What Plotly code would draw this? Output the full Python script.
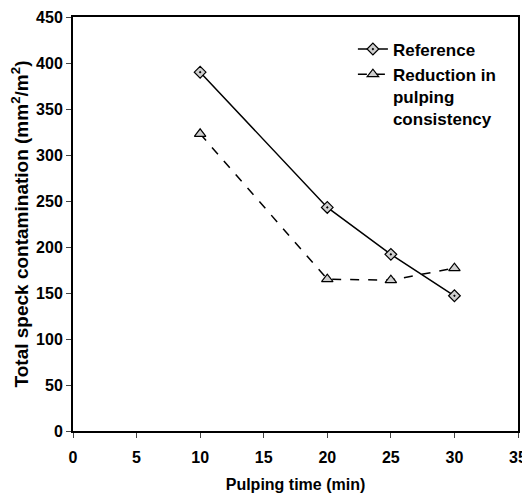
import plotly.graph_objects as go

time_min = [10, 20, 25, 30]
reference = [390, 243, 192, 147]
reduction = [323, 165, 164, 177]

x_ticks = [0, 5, 10, 15, 20, 25, 30, 35]
y_ticks = [0, 50, 100, 150, 200, 250, 300, 350, 400, 450]

font_family = "Liberation Sans, Arial, sans-serif"

fig = go.Figure()
fig.add_trace(go.Scatter(
    x=time_min, y=reference, name="Reference", mode="lines+markers",
    line=dict(color="black", width=1.5, dash="solid"),
    marker=dict(symbol="diamond-dot", size=9, color="#cfcfcf",
                line=dict(color="black", width=1.2)),
))
fig.add_trace(go.Scatter(
    x=time_min, y=reduction, name="Reduction in<br>pulping<br>consistency",
    mode="lines+markers",
    line=dict(color="black", width=1.5, dash="dash"),
    marker=dict(symbol="triangle-up", size=10, color="#cfcfcf",
                line=dict(color="black", width=1.2)),
))

# page body has an ~8px default margin, so the figure is sized to fit the window
fig.update_layout(
    width=522, height=493,
    margin=dict(l=65, r=12, t=9, b=70),
    paper_bgcolor="white", plot_bgcolor="white",
    font=dict(family=font_family, size=16, color="black", weight="bold"),
    showlegend=True,
    legend=dict(x=0.629, y=0.965, xanchor="left", yanchor="top", valign="top",
                bgcolor="rgba(0,0,0,0)", font=dict(size=17, weight="bold"),
                itemwidth=30, tracegroupgap=2),
)
fig.update_xaxes(
    range=[0, 35], tickvals=x_ticks, ticks="outside", ticklen=5,
    ticklabelstandoff=6,
    showline=True, linecolor="black", linewidth=2, mirror=True,
    showgrid=False, zeroline=False, automargin=False,
    tickfont=dict(size=16, family=font_family, weight="bold"),
    title=dict(text="Pulping time (min)", font=dict(size=16, weight="bold"), standoff=14),
)
fig.update_yaxes(
    range=[0, 450], tickvals=y_ticks, ticks="outside", ticklen=5,
    showline=True, linecolor="black", linewidth=2, mirror=True,
    showgrid=False, zeroline=False, automargin=False,
    tickfont=dict(size=16, family=font_family, weight="bold"),
    title=dict(text="Total speck contamination (mm<sup>2</sup>/m<sup>2</sup>)",
               font=dict(size=19, weight="bold"), standoff=2),
)

fig.write_html("out.html")
